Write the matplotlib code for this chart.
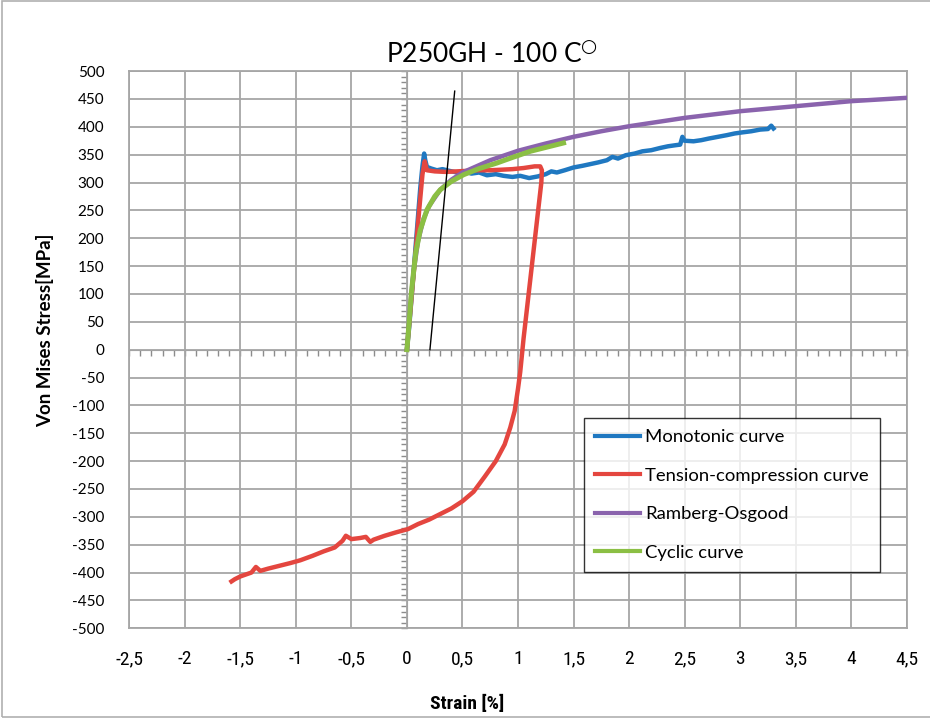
import matplotlib
matplotlib.use('Agg')
import matplotlib.pyplot as plt
from matplotlib.ticker import MultipleLocator
from matplotlib.patches import Rectangle
from matplotlib import font_manager

plt.rcParams['font.family'] = ['Lato', 'DejaVu Sans']

# pick a narrow face for the x axis texts if one is installed
names = {f.name for f in font_manager.fontManager.ttflist}
narrow = 'Lato'
for cand in ['Liberation Sans Narrow', 'Roboto Condensed', 'Open Sans Condensed', 'DejaVu Sans Condensed']:
    if cand in names:
        narrow = cand
        break

# monotonic curve
mono_x = [0, 0.02, 0.04, 0.06, 0.08, 0.10, 0.12, 0.14, 0.155, 0.165, 0.18, 0.22, 0.27, 0.32,
          0.38, 0.45, 0.52, 0.58, 0.65, 0.72, 0.80, 0.87, 0.95, 1.02, 1.10, 1.18, 1.25, 1.30,
          1.35, 1.42, 1.50, 1.58, 1.65, 1.72, 1.80, 1.85, 1.90, 1.97, 2.05, 2.12, 2.20, 2.28,
          2.35, 2.42, 2.46, 2.48, 2.50, 2.58, 2.65, 2.72, 2.80, 2.88, 2.95, 3.02, 3.10, 3.18,
          3.25, 3.28, 3.30]
mono_y = [0, 40, 90, 140, 190, 240, 290, 330, 352, 340, 328, 325, 322, 324,
          321, 318, 320, 316, 318, 313, 315, 312, 310, 312, 308, 311, 315, 320,
          318, 322, 327, 330, 333, 336, 340, 346, 343, 349, 352, 356, 358, 362,
          365, 367, 368, 382, 375, 374, 376, 379, 382, 385, 388, 390, 392, 395,
          396, 402, 397]

# tension-compression curve
tc_x = [0, 0.04, 0.08, 0.11, 0.14, 0.16, 0.18, 0.25, 0.35, 0.45, 0.55, 0.65, 0.75, 0.85,
        0.95, 1.05, 1.15, 1.20, 1.215, 1.21, 1.17, 1.13, 1.09, 1.05, 1.02, 1.00, 0.97,
        0.93, 0.88, 0.80, 0.70, 0.60, 0.50, 0.40, 0.30, 0.20, 0.10, 0.01, -0.10, -0.20,
        -0.30, -0.33, -0.37, -0.42, -0.50, -0.55, -0.58, -0.65, -0.75, -0.85, -0.96,
        -1.05, -1.15, -1.25, -1.32, -1.36, -1.40, -1.50, -1.55, -1.58]
tc_y = [0, 90, 180, 250, 315, 338, 322, 320, 319, 320, 321, 322, 322, 323,
        324, 326, 329, 329, 322, 300, 230, 160, 90, 20, -40, -70, -110,
        -140, -170, -200, -228, -255, -272, -285, -295, -305, -313, -322, -328, -334,
        -341, -345, -336, -338, -340, -334, -343, -355, -362, -370, -378,
        -383, -388, -393, -397, -390, -400, -407, -412, -416]

# Ramberg-Osgood
ro_x = [0, 0.03, 0.06, 0.10, 0.15, 0.20, 0.30, 0.40, 0.50, 0.75, 1.00, 1.25, 1.50, 1.75,
        2.00, 2.50, 3.00, 3.50, 4.00, 4.50]
ro_y = [0, 80, 140, 195, 235, 258, 287, 305, 318, 340, 357, 370, 382, 392,
        401, 416, 428, 437, 446, 452]

# cyclic curve
cyc_x = [0, 0.02, 0.04, 0.06, 0.08, 0.12, 0.18, 0.25, 0.30, 0.40, 0.51, 0.65, 0.81, 0.95,
         1.11, 1.25, 1.41]
cyc_y = [0, 50, 102, 140, 175, 215, 251, 275, 287, 302, 314, 325, 335, 345,
         356, 363, 371]

# elastic offset line
off_x = [0.207, 0.43]
off_y = [0, 464]

x_ticks = [-2.5, -2, -1.5, -1, -0.5, 0, 0.5, 1, 1.5, 2, 2.5, 3, 3.5, 4, 4.5]
x_labels = ['-2,5', '-2', '-1,5', '-1', '-0,5', '0', '0,5', '1', '1,5', '2', '2,5', '3',
            '3,5', '4', '4,5']
y_ticks = list(range(-500, 501, 50))

fig = plt.figure(figsize=(9.3, 7.18), dpi=100)
ax = fig.add_axes([0.139, 0.125, 0.836, 0.776])

grid_col = '#a6a6a6'
ax.set_xlim(-2.5, 4.5)
ax.set_ylim(-500, 500)
ax.set_xticks(x_ticks)
ax.set_xticklabels(x_labels, fontsize=14, family=[narrow, 'Lato'])
ax.set_yticks(y_ticks)
ax.set_yticklabels([str(v) for v in y_ticks], fontsize=11)
ax.tick_params(length=0, pad=18)
ax.tick_params(axis='x', pad=16)
ax.grid(True, color=grid_col, linewidth=1.3)
for s in ax.spines.values():
    s.set_color(grid_col)
    s.set_linewidth(1.3)

ax.plot(mono_x, mono_y, color='#1f78c1', lw=3.2, label='Monotonic curve', zorder=3)
ax.plot(tc_x, tc_y, color='#e4463f', lw=3.2, label='Tension-compression curve', zorder=3)
ax.plot(ro_x, ro_y, color='#8a63ad', lw=3.2, label='Ramberg-Osgood', zorder=3)
ax.plot(cyc_x, cyc_y, color='#8bbf44', lw=3.6, label='Cyclic curve', zorder=4)
ax.plot(off_x, off_y, color='black', lw=1, zorder=5)

ax.set_title('P250GH - 100 C$^{\\bigcirc}$', fontsize=19, pad=6, x=0.466)
ax.set_xlabel('Strain [%]', fontsize=14, fontweight='bold', family=[narrow, 'Lato'])
ax.xaxis.set_label_coords(0.435, -0.12)
ax.set_ylabel('Von Mises Stress[MPa]', fontsize=13.5, fontweight='bold')
ax.yaxis.set_label_coords(-0.097, 0.535)

leg = ax.legend(loc='upper left', bbox_to_anchor=(0.585, 0.377), fontsize=13.3,
                frameon=True, fancybox=False, handlelength=2.4, handletextpad=0.3,
                labelspacing=1.22, borderpad=0.6, borderaxespad=0)
leg.get_frame().set_edgecolor('black')
leg.get_frame().set_linewidth(1)
for h in leg.get_lines():
    h.set_linewidth(3)

# axes crossing at zero with minor ticks
ax2 = fig.add_axes(ax.get_position(), frameon=True)
ax2.set_xlim(-2.5, 4.5)
ax2.set_ylim(-500, 500)
ax2.patch.set_visible(False)
for side in ['top', 'right']:
    ax2.spines[side].set_visible(False)
ax2.spines['left'].set_position(('data', 0))
ax2.spines['bottom'].set_position(('data', 0))
ax2.spines['left'].set_color('#8c8c8c')
ax2.spines['bottom'].set_color('#8c8c8c')
ax2.set_xticks([])
ax2.set_yticks([])
ax2.xaxis.set_minor_locator(MultipleLocator(0.1))
ax2.yaxis.set_minor_locator(MultipleLocator(10))
ax2.tick_params(which='minor', length=4, width=1, color='#8c8c8c', direction='out')
ax2.set_zorder(ax.get_zorder() - 0.5)
ax.set_zorder(1)
ax.patch.set_visible(False)

fig.patches.append(Rectangle((0.002, 0.002), 1.2, 0.996, transform=fig.transFigure,
                             fill=False, edgecolor='#b0b0b0', linewidth=1.2))

fig.savefig('out.png', dpi=100)
